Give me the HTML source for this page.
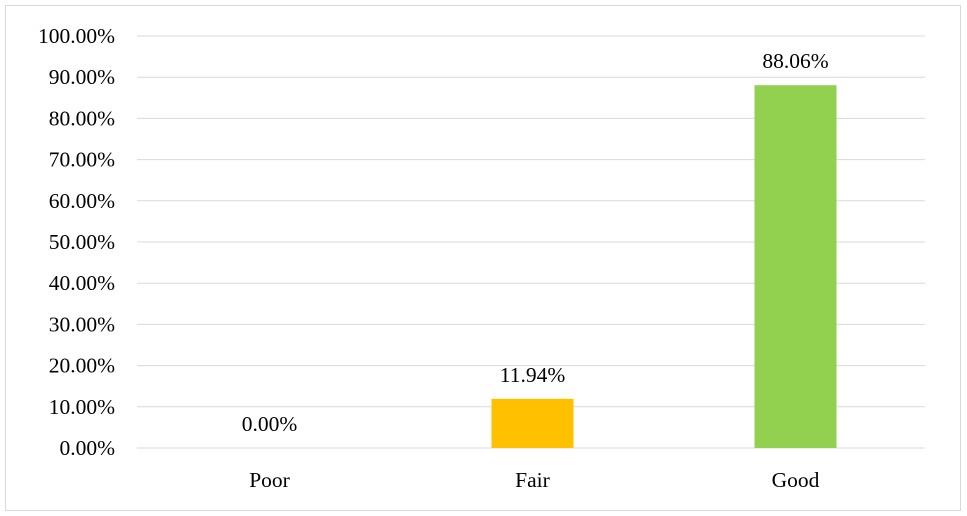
<!DOCTYPE html>
<html><head><meta charset="utf-8"><style>
body{margin:0;background:#fff;}
svg{display:block;font-family:"Liberation Serif",serif;}
</style></head><body>
<svg width="967" height="516">
<rect x="5.5" y="5.5" width="955" height="505" fill="#fff" stroke="#d9d9d9"/>
<g id="grid"></g><g id="bars"></g><g id="labels"></g>
</svg>
<script>
const categories=["Poor","Fair","Good"];
const values=[0,11.94,88.06];
const valueLabels=["0.00%","11.94%","88.06%"];
const colors=["#ffc000","#ffc000","#92d050"];
const ticks=[0,10,20,30,40,50,60,70,80,90,100];
const ns="http://www.w3.org/2000/svg";
const x0=138,x1=927,yb=448,yt=36;
const y=v=>yb-(v/100)*(yb-yt);
const band=(x1-x0)/categories.length;
const xc=i=>x0+band*(i+0.5);
const bw=82;
function mk(t,a,p){const e=document.createElementNS(ns,t);for(const k in a)e.setAttribute(k,a[k]);document.getElementById(p).appendChild(e);return e;}
ticks.forEach(t=>{
 const l=mk('line',{x1:137,x2:925,y1:y(t),y2:y(t),stroke:'#d9d9d9','stroke-width':1},'grid');
 
 
 const tx=mk('text',{x:115,y:y(t)+7,'text-anchor':'end','font-size':21.5,fill:'#000'},'grid');
 tx.textContent=t.toFixed(2)+'%';
 
 
});
categories.forEach((c,i)=>{
 const r=mk('rect',{x:xc(i)-bw/2,y:y(values[i]),width:bw,height:yb-y(values[i]),fill:colors[i]},'bars');
 
 
 const v=mk('text',{x:xc(i),y:y(values[i])-17,'text-anchor':'middle','font-size':21.5},'labels');
 v.textContent=valueLabels[i];
 
 
 const cl=mk('text',{x:xc(i),y:487,'text-anchor':'middle','font-size':21.5},'labels');
 cl.textContent=c;
 
 
});
</script>
</body></html>
